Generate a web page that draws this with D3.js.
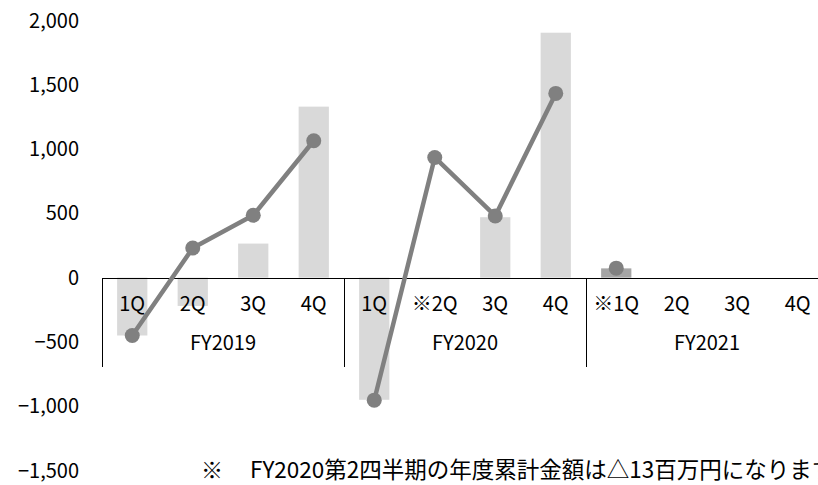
<!DOCTYPE html>
<html>
<head>
<meta charset="utf-8">
<script src="https://cdn.jsdelivr.net/npm/d3@7"></script>
<style>
  body { margin: 0; background: #fff; }
  svg { display: block; font-family: "Noto Sans CJK JP", "Noto Sans", sans-serif; }
</style>
</head>
<body>
<svg id="chart" width="818" height="485"></svg>
<script>
const fiscalYears = ["FY2019", "FY2020", "FY2021"];
const quarterLabels = [
  ["1Q", "2Q", "3Q", "4Q"],
  ["1Q", "※2Q", "3Q", "4Q"],
  ["※1Q", "2Q", "3Q", "4Q"]
];
// 年度累計（棒）
const cumulative = [
  [-450, -220, 265, 1330],
  [-950, -13, 470, 1905],
  [72, null, null, null]
];
// 四半期（折れ線）
const quarterly = [
  [-450, 230, 485, 1065],
  [-953, 935, 480, 1433],
  [74, null, null, null]
];
const yTicks = [-1500, -1000, -500, 0, 500, 1000, 1500, 2000];
const footMark = "※";
const footText = "FY2020第2四半期の年度累計金額は△13百万円になります";

const svg = d3.select("#chart");

const left = 102, right = 828;
const rows = [];
fiscalYears.forEach((fy, g) => {
  quarterLabels[g].forEach((q, i) => {
    rows.push({ key: fy + "-" + i, fy, g, i, q, bar: cumulative[g][i], val: quarterly[g][i] });
  });
});

const x = d3.scaleBand()
  .domain(rows.map(d => d.key))
  .range([left, right])
  .paddingInner(0.5)
  .paddingOuter(0.25);

const y = d3.scaleLinear()
  .domain([-1500, 2000])
  .range([470.5, 20.5]);

const step = x.step();
const y0 = Math.round(y(0)) + 0.5;

// 棒
svg.append("g")
  .selectAll("rect")
  .data(rows.filter(d => d.bar != null))
  .enter()
  .append("rect")
  .attr("x", d => x(d.key))
  .attr("width", x.bandwidth())
  .attr("y", d => d.bar >= 0 ? y(d.bar) : y(0))
  .attr("height", d => Math.abs(y(d.bar) - y(0)))
  .attr("fill", d => d.g === 2 ? "#a5a5a5" : "#d9d9d9");

// y軸ラベル
svg.append("g")
  .selectAll("text")
  .data(yTicks)
  .enter()
  .append("text")
  .attr("x", 79)
  .attr("y", d => y(d) + 7)
  .attr("text-anchor", "end")
  .attr("fill", "#000")
  .style("font-size", "20px")
  .text(d => d3.format(",")(d).replace("-", "−"));

// 軸線
svg.append("line")
  .attr("x1", left).attr("x2", right)
  .attr("y1", y0).attr("y2", y0)
  .attr("stroke", "#000")
  .attr("stroke-width", 1);

const groupEdges = fiscalYears.map((fy, g) => left + g * step * 4).concat([right]);
svg.append("g")
  .selectAll("line")
  .data(groupEdges)
  .enter()
  .append("line")
  .attr("x1", d => Math.round(d) + 0.5)
  .attr("x2", d => Math.round(d) + 0.5)
  .attr("y1", y0)
  .attr("y2", 367)
  .attr("stroke", "#000")
  .attr("stroke-width", 1);

// 四半期ラベル
svg.append("g")
  .selectAll("text")
  .data(rows)
  .enter()
  .append("text")
  .attr("x", d => x(d.key) + x.bandwidth() / 2)
  .attr("y", 311)
  .attr("text-anchor", "middle")
  .style("font-size", "20px")
  .text(d => d.q);

// 年度ラベル
svg.append("g")
  .selectAll("text")
  .data(fiscalYears)
  .enter()
  .append("text")
  .attr("x", (d, g) => left + g * step * 4 + step * 2)
  .attr("y", 350)
  .attr("text-anchor", "middle")
  .style("font-size", "20px")
  .text(d => d);

// 折れ線（年度ごと）
const line = d3.line()
  .defined(d => d.val != null)
  .x(d => x(d.key) + x.bandwidth() / 2)
  .y(d => y(d.val));

fiscalYears.forEach((fy, g) => {
  const pts = rows.filter(d => d.g === g);
  svg.append("path")
    .datum(pts)
    .attr("d", line)
    .attr("fill", "none")
    .attr("stroke", "#808080")
    .attr("stroke-width", 4.5)
    .attr("stroke-linejoin", "round");
});

svg.append("g")
  .selectAll("circle")
  .data(rows.filter(d => d.val != null))
  .enter()
  .append("circle")
  .attr("cx", d => x(d.key) + x.bandwidth() / 2)
  .attr("cy", d => y(d.val))
  .attr("r", 7.5)
  .attr("fill", "#808080");

// 注記
svg.append("text")
  .attr("x", 212)
  .attr("y", 478)
  .attr("text-anchor", "middle")
  .style("font-size", "22px")
  .text(footMark);

svg.append("text")
  .attr("x", 250)
  .attr("y", 478)
  .style("font-size", "22.5px")
  .text(footText);
</script>
</body>
</html>
